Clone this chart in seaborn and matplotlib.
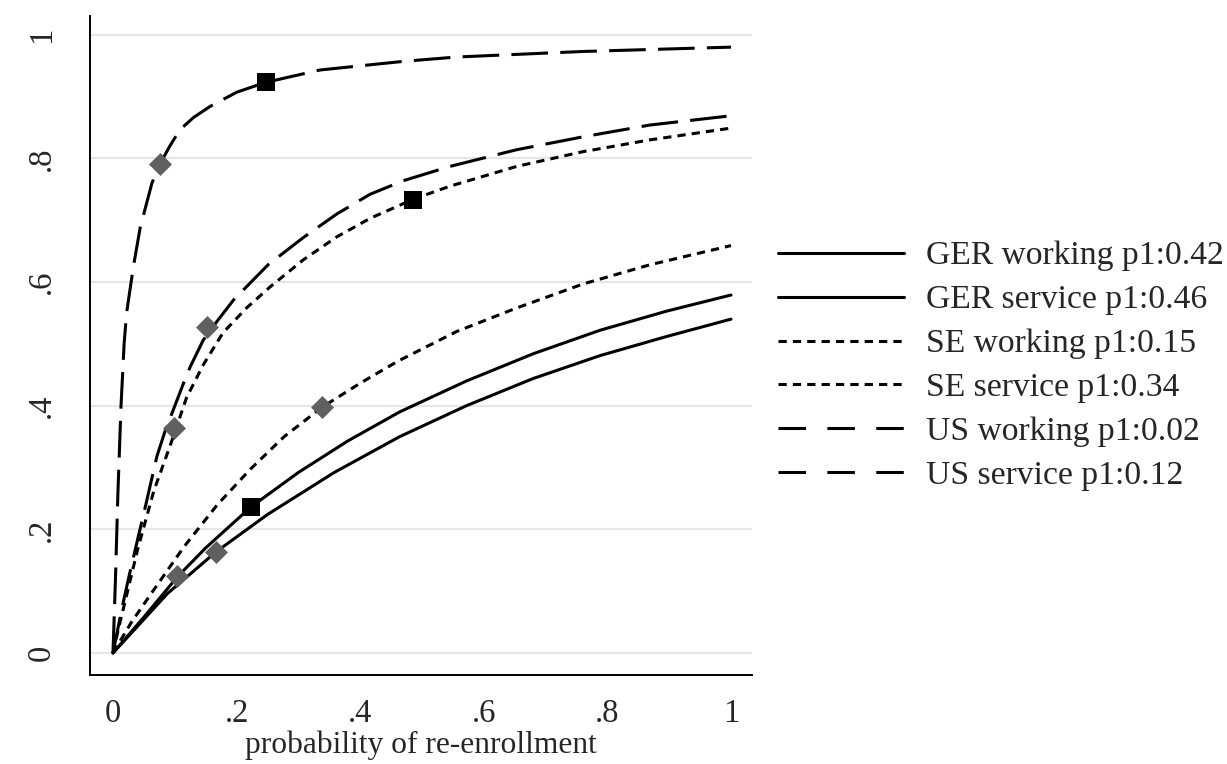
import matplotlib
matplotlib.use("Agg")
import matplotlib.pyplot as plt
from matplotlib.lines import Line2D
import seaborn as sns

# ---------------- data ----------------
labels = ["GER working p1:0.42", "GER service p1:0.46",
          "SE working p1:0.15", "SE service p1:0.34",
          "US working p1:0.02", "US service p1:0.12"]

ger_working_x = [0, 0.05, 0.104, 0.15, 0.223, 0.30, 0.38, 0.464, 0.572, 0.68, 0.788, 0.896, 1.0]
ger_working_y = [0, 0.058, 0.123, 0.170, 0.236, 0.292, 0.343, 0.390, 0.440, 0.484, 0.522, 0.553, 0.579]

ger_service_x = [0, 0.034, 0.088, 0.166, 0.25, 0.358, 0.464, 0.572, 0.68, 0.788, 0.896, 1.0]
ger_service_y = [0, 0.037, 0.096, 0.163, 0.224, 0.292, 0.350, 0.400, 0.444, 0.481, 0.512, 0.540]

se_working_x = [0, 0.01, 0.02, 0.04, 0.066, 0.092, 0.119, 0.146, 0.178, 0.216, 0.254, 0.308,
                0.362, 0.416, 0.486, 0.545, 0.653, 0.761, 0.869, 1.0]
se_working_y = [0, 0.044, 0.085, 0.168, 0.262, 0.334, 0.413, 0.466, 0.518, 0.558, 0.592, 0.636,
                0.673, 0.703, 0.734, 0.755, 0.787, 0.811, 0.830, 0.849]

se_service_x = [0, 0.03, 0.061, 0.115, 0.169, 0.223, 0.277, 0.339, 0.401, 0.461, 0.556, 0.653,
                0.761, 0.869, 1.0]
se_service_y = [0, 0.05, 0.095, 0.172, 0.240, 0.298, 0.350, 0.398, 0.437, 0.472, 0.520, 0.558,
                0.597, 0.628, 0.659]

us_working_x = [0, 0.004, 0.008, 0.013, 0.018, 0.022, 0.033, 0.044, 0.063, 0.076, 0.092, 0.108,
                0.13, 0.157, 0.2, 0.247, 0.335, 0.47, 0.556, 0.761, 1.0]
us_working_y = [0, 0.12, 0.26, 0.40, 0.50, 0.55, 0.625, 0.688, 0.76, 0.791, 0.82, 0.846,
                0.866, 0.884, 0.907, 0.923, 0.943, 0.957, 0.964, 0.973, 0.980]

us_service_x = [0, 0.014, 0.025, 0.039, 0.052, 0.071, 0.084, 0.114, 0.125, 0.146, 0.168, 0.195,
                0.251, 0.308, 0.362, 0.416, 0.47, 0.545, 0.653, 0.761, 0.869, 1.0]
us_service_y = [0, 0.07, 0.12, 0.18, 0.235, 0.318, 0.358, 0.436, 0.463, 0.506, 0.536, 0.571,
                0.628, 0.672, 0.710, 0.742, 0.764, 0.787, 0.814, 0.835, 0.854, 0.869]

diamond_x = [0.076, 0.152, 0.099, 0.339, 0.104, 0.166]
diamond_y = [0.791, 0.528, 0.364, 0.398, 0.124, 0.163]
square_x = [0.247, 0.486, 0.223]
square_y = [0.923, 0.733, 0.236]

x_ticks = [0, 0.2, 0.4, 0.6, 0.8, 1.0]
x_ticklabels = ["0", ".2", ".4", ".6", ".8", "1"]
y_ticks = [0, 0.2, 0.4, 0.6, 0.8, 1.0]
y_ticklabels = ["0", ".2", ".4", ".6", ".8", "1"]
x_label = "probability of re-enrollment"

# ---------------- style ----------------
sns.set_theme(style="white")
plt.rcParams["font.family"] = ["Liberation Serif", "DejaVu Serif"]
FS = 23.5
FS_LAB = 22.7
FS_LEG = 24.2

fig = plt.figure(figsize=(12.27, 7.64), dpi=100)
ax = fig.add_axes([90 / 1227, 1 - 675 / 764, (752 - 90) / 1227, (675 - 15.6) / 764])

LW = 2.2
solid = "-"
short = (0, (2.7, 2.0))
long_ = (0, (12, 4))

series = [
    (ger_working_x, ger_working_y, solid),
    (ger_service_x, ger_service_y, solid),
    (se_working_x, se_working_y, short),
    (se_service_x, se_service_y, short),
    (us_working_x, us_working_y, long_),
    (us_service_x, us_service_y, long_),
]
for (xs, ys, ls), lab in zip(series, labels):
    sns.lineplot(x=xs, y=ys, ax=ax, color="black", linewidth=LW, linestyle=ls,
                 sort=False, estimator=None, legend=False, zorder=3)

sns.scatterplot(x=diamond_x, y=diamond_y, ax=ax, marker="D", s=137, color="#606060",
                linewidth=0, zorder=5, legend=False)
sns.scatterplot(x=square_x, y=square_y, ax=ax, marker="s", s=169, color="black",
                linewidth=0, zorder=5, legend=False)

ax.set_xlim(-0.0372, 1.034)
ax.set_ylim(-0.0356, 1.031)

for yv in y_ticks:
    ax.axhline(yv, color="#e6e6e6", linewidth=1.6, zorder=1)

ax.set_xticks(x_ticks)
ax.set_xticklabels(x_ticklabels, fontsize=FS)
ax.set_yticks(y_ticks)
ax.set_yticklabels(y_ticklabels, fontsize=FS, rotation=90, va="center")
ax.tick_params(axis="both", direction="out", length=9, width=1.3, color="black")
ax.tick_params(axis="x", pad=8)
ax.tick_params(axis="y", pad=15)
ax.set_xlabel(x_label, fontsize=FS_LAB, labelpad=1)
ax.set_ylabel("")

for s in ["top", "right"]:
    ax.spines[s].set_visible(False)
for s in ["left", "bottom"]:
    ax.spines[s].set_color("black")
    ax.spines[s].set_linewidth(1.4)

# legend with Stata-like handle patterns
leg_styles = [solid, solid, (0, (2.7, 2.0)), (0, (2.7, 2.0)), (0, (9, 7)), (0, (9, 7))]
handles = [Line2D([0], [0], color="black", linewidth=LW, linestyle=ls) for ls in leg_styles]
fig.legend(handles, labels, loc="center left", bbox_to_anchor=(778 / 1227, 1 - 366 / 764),
           frameon=False, fontsize=FS_LEG, handlelength=3.75, handletextpad=0.65,
           labelspacing=0.4, borderpad=0, borderaxespad=0)

fig.savefig("out.png", dpi=100)
